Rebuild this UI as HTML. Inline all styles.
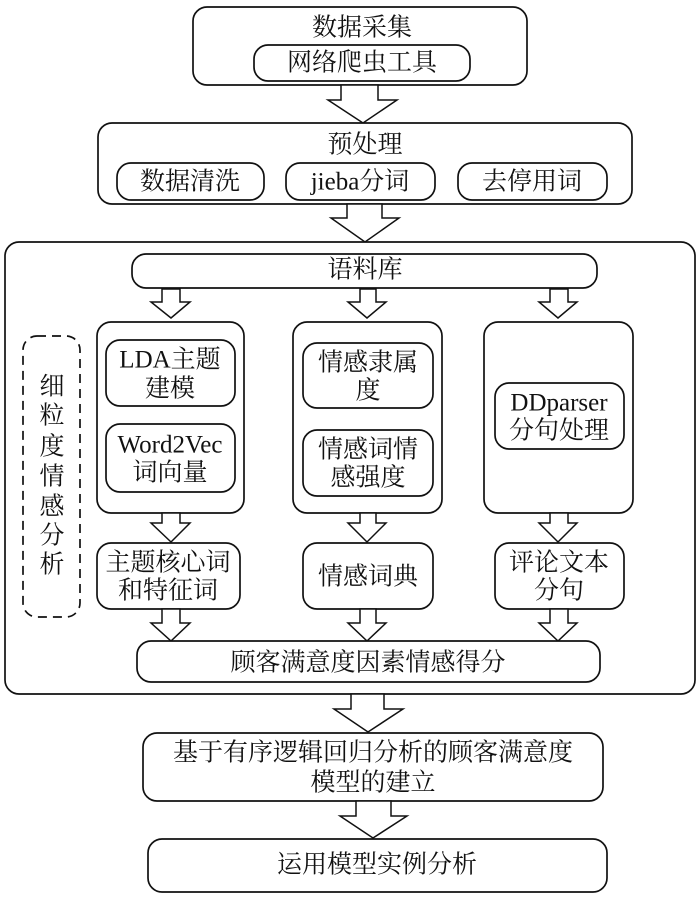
<!DOCTYPE html>
<html><head><meta charset="utf-8"><style>
html,body{margin:0;padding:0;background:#fff;}
svg{display:block;}
text{font-family:"Liberation Serif","Noto Serif CJK SC",serif;font-size:25px;fill:#111;text-anchor:middle;dominant-baseline:central;}
rect{fill:#fff;stroke:#111;stroke-width:1.7;}
polygon{fill:#fff;stroke:#111;stroke-width:1.5;stroke-linejoin:miter;}
</style></head><body>
<svg width="696" height="900" viewBox="0 0 696 900" xmlns="http://www.w3.org/2000/svg">
<rect x="193" y="7" width="334" height="78" rx="14"/>
<text x="362" y="28">数据采集</text>
<rect x="254" y="45" width="216" height="36" rx="14"/>
<text x="362" y="63">网络爬虫工具</text>
<polygon points="341,85 378,85 378,100 397,100 363,123 328,100 341,100"/>
<rect x="98" y="123" width="534" height="81" rx="14"/>
<text x="365" y="145">预处理</text>
<rect x="117" y="163" width="147" height="37" rx="14"/>
<text x="190" y="182">数据清洗</text>
<rect x="286" y="163" width="149" height="37" rx="14"/>
<text x="360" y="182">jieba分词</text>
<rect x="458" y="163" width="149" height="37" rx="14"/>
<text x="532" y="182">去停用词</text>
<polygon points="347,204 382,204 382,218 399,218 365,242 331,218 347,218"/>
<rect x="5" y="242" width="690" height="452" rx="14"/>
<rect x="132" y="254" width="465" height="34" rx="14"/>
<text x="365" y="270">语料库</text>
<polygon points="162,289 180,289 180,302 190,302 171,318 151,302 162,302"/>
<polygon points="360,289 376,289 376,302 386,302 367,318 348,302 360,302"/>
<polygon points="550,289 568,289 568,302 577,302 558,318 539,302 550,302"/>
<rect x="23" y="336" width="57" height="281" rx="14" style="stroke-dasharray:9,6;"/>
<text x="52" y="387">细</text><text x="52" y="416">粒</text><text x="52" y="447">度</text><text x="52" y="477">情</text><text x="52" y="507">感</text><text x="52" y="536">分</text><text x="52" y="565">析</text>
<rect x="97" y="322" width="147" height="191" rx="14"/>
<rect x="106" y="340" width="129" height="66" rx="14"/>
<text x="170" y="360">LDA主题</text><text x="170" y="389">建模</text>
<rect x="106" y="424" width="129" height="68" rx="14"/>
<text x="170" y="445">Word2Vec</text><text x="170" y="473">词向量</text>
<rect x="293" y="322" width="149" height="191" rx="14"/>
<rect x="303" y="343" width="130" height="65" rx="14"/>
<text x="368" y="363">情感隶属</text><text x="368" y="391">度</text>
<rect x="303" y="430" width="130" height="66" rx="14"/>
<text x="368" y="450">情感词情</text><text x="368" y="478">感强度</text>
<rect x="484" y="322" width="149" height="191" rx="14"/>
<rect x="495" y="383" width="129" height="66" rx="14"/>
<text x="559" y="403">DDparser</text><text x="559" y="431">分句处理</text>
<polygon points="162,513 180,513 180,523 190,523 171,542 151,523 162,523"/>
<polygon points="360,513 376,513 376,523 386,523 367,542 348,523 360,523"/>
<polygon points="550,513 568,513 568,523 577,523 558,542 539,523 550,523"/>
<rect x="97" y="543" width="143" height="66" rx="14"/>
<text x="168" y="563">主题核心词</text><text x="168" y="591">和特征词</text>
<rect x="303" y="543" width="130" height="66" rx="14"/>
<text x="368" y="577">情感词典</text>
<rect x="495" y="543" width="129" height="66" rx="14"/>
<text x="559" y="563">评论文本</text><text x="559" y="591">分句</text>
<polygon points="162,609 180,609 180,623 190,623 171,641 151,623 162,623"/>
<polygon points="360,609 376,609 376,623 386,623 367,641 348,623 360,623"/>
<polygon points="550,609 568,609 568,623 577,623 558,641 539,623 550,623"/>
<rect x="137" y="641" width="463" height="41" rx="14"/>
<text x="368" y="663">顾客满意度因素情感得分</text>
<polygon points="351,694 384,694 384,709 403,709 368,732 334,709 351,709"/>
<rect x="143" y="733" width="460" height="68" rx="14"/>
<text x="373" y="753">基于有序逻辑回归分析的顾客满意度</text>
<text x="373" y="783">模型的建立</text>
<polygon points="356,801 391,801 391,816 407,816 373,838 340,816 356,816"/>
<rect x="148" y="839" width="459" height="53" rx="14"/>
<text x="377" y="865">运用模型实例分析</text>
</svg>
</body></html>
